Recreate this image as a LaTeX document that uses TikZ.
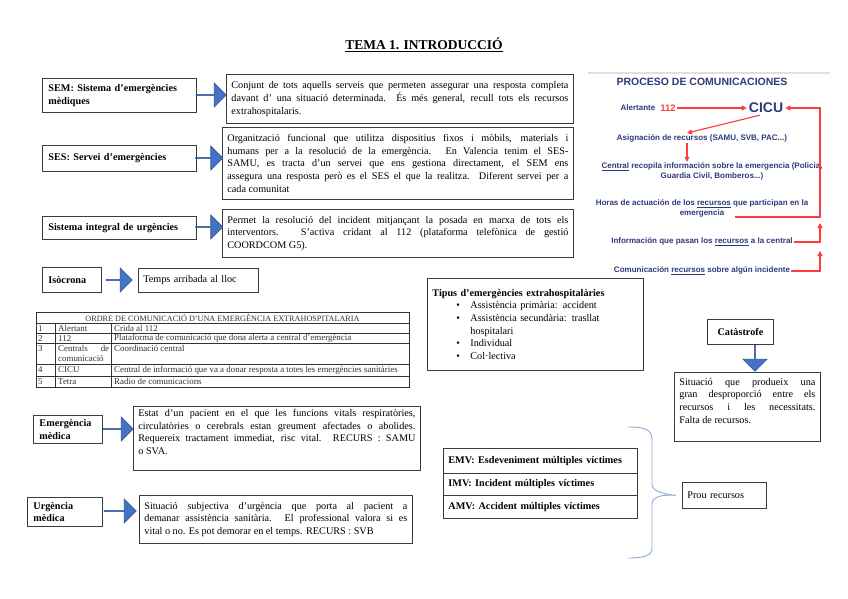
\documentclass[tikz,border=0pt]{standalone}
\usepackage{fontspec}
\setmainfont{Liberation Serif}
\newfontfamily\arialf{Liberation Sans}
\usetikzlibrary{shapes.arrows,arrows.meta,calc}
\definecolor{bordc}{HTML}{3C3C3C}
\definecolor{arrblue}{HTML}{4472C4}
\definecolor{arrbluedk}{HTML}{2F528F}
\definecolor{navy}{HTML}{2E3A7A}
\definecolor{redc}{HTML}{FF3B3B}
\definecolor{bracec}{HTML}{8FAADC}
\definecolor{tabc}{HTML}{333333}
\newcommand\bodyf{\fontsize{10.2}{12.7}\selectfont}
\newcommand\tabf{\fontsize{8.9}{9.6}\selectfont}
\newcommand\procf{\arialf\bfseries\fontsize{8}{9.5}\selectfont}
\newcommand\tbul{\makebox[38pt][l]{\hspace*{24pt}\textbullet}}
\begin{document}
\begin{tikzpicture}[x=1pt,y=-1pt,
  lbl/.style={draw=bordc,line width=0.9pt,font=\bodyf\bfseries,align=left,anchor=north west,inner xsep=6pt,inner ysep=2pt},
  descb/.style={draw=bordc,line width=0.8pt,font=\bodyf,align=justify,anchor=north west,inner xsep=5pt,inner ysep=2pt},
  plainb/.style={draw=bordc,line width=0.8pt,font=\bodyf,align=left,anchor=north west,inner xsep=5pt,inner ysep=2pt},
  barrow/.style={single arrow,fill=arrblue,draw=arrbluedk,line width=0.6pt,single arrow head extend=6pt,minimum width=24pt,inner sep=0pt},
  ptext/.style={font=\procf,text=navy,align=center,inner sep=1pt},
  redarr/.style={draw=redc,line width=1.1pt,-{Triangle[length=5pt,width=5pt]}},
  tabt/.style={font=\tabf,text=tabc,inner sep=0pt,anchor=west},
  rowb/.style={draw=bordc,line width=0.8pt,font=\bodyf\bfseries,align=left,anchor=north west,inner xsep=5pt,inner ysep=0pt,text width=184pt}
]
\fill[white] (0,0) rectangle (848,599);
\useasboundingbox (0,0) rectangle (848,599);

% title
\node[font=\bfseries\fontsize{13.5}{16}\selectfont,inner sep=0pt] (title) at (424,45) {\underline{TEMA 1. INTRODUCCIÓ}};

% SEM
\node[lbl,text width=142pt,minimum height=34pt] (sem) at (42,78) {SEM: Sistema d'emergències\\mèdiques};
\node[descb,text width=337pt,minimum height=49pt] (semd) at (226,74) {Conjunt de tots aquells serveis que permeten assegurar una resposta completa\linebreak davant d' una situació determinada. És més general, recull tots els recursos\linebreak extrahospitalaris.};
\node[barrow,minimum height=30pt] (a1) at (211,95) {};

% SES
\node[lbl,text width=142pt,minimum height=26pt] (ses) at (42,145) {SES: Servei d’emergències};
\node[descb,text width=341pt,minimum height=72pt] (sesd) at (222,127) {Organització funcional que utilitza dispositius fixos i mòbils, materials i\linebreak humans per a la resolució de la emergència. En Valencia tenim el SES-\linebreak SAMU, es tracta d’un servei que ens gestiona directament, el SEM ens\linebreak assegura una resposta però es el SES el que la realitza. Diferent servei per a\linebreak cada comunitat};
\node[barrow,minimum height=27pt] (a2) at (209,158) {};

% Sistema integral
\node[lbl,text width=142pt,minimum height=23pt] (sist) at (42,216) {Sistema integral de urgències};
\node[descb,text width=341pt,minimum height=48pt] (sistd) at (222,209) {Permet la resolució del incident mitjançant la posada en marxa de tots els\linebreak interventors. S’activa cridant al 112 (plataforma telefònica de gestió\linebreak COORDCOM G5).};
\node[barrow,minimum height=27pt] (a3) at (209,227) {};

% Isocrona
\node[lbl,text width=47pt,minimum height=25pt] (iso) at (42,267) {Isòcrona};
\node[plainb,text width=110pt,minimum height=24pt] (temps) at (138,268) {Temps arribada al lloc};
\node[barrow,minimum height=26pt] (a4) at (119,280) {};

% table
\draw[tabc,line width=0.9pt] (36,312) rectangle (409,387);
\foreach \yy in {323,333,343,364,376} \draw[tabc,line width=0.6pt] (36,\yy) -- (409,\yy);
\draw[tabc,line width=0.6pt] (55,323) -- (55,387);
\draw[tabc,line width=0.6pt] (111,323) -- (111,387);
\node[tabt,anchor=center,font=\fontsize{8.2}{9}\selectfont] (th) at (222.5,317.8) {ORDRE DE COMUNICACIÓ D’UNA EMERGÈNCIA EXTRAHOSPITALARIA};
\node[tabt] (r1a) at (38,328.3) {1};
\node[tabt] (r1b) at (58,328.3) {Alertant};
\node[tabt] (r1c) at (114,328.3) {Crida al 112};
\node[tabt] (r2a) at (38,338.3) {2};
\node[tabt] (r2b) at (58,338.3) {112};
\node[tabt] (r2c) at (114,338.3) {Plataforma de comunicació que dona alerta a central d’emergència};
\node[tabt] (r3a) at (38,348.5) {3};
\node[tabt] (r3b) at (58,348.5) {\makebox[51pt][s]{Centrals de}};
\node[tabt] (r3b2) at (58,358.5) {comunicació};
\node[tabt] (r3c) at (114,348.5) {Coordinació central};
\node[tabt] (r4a) at (38,370) {4};
\node[tabt] (r4b) at (58,370) {CICU};
\node[tabt] (r4c) at (114,370) {Central de informació que va a donar resposta a totes les emergències sanitàries};
\node[tabt] (r5a) at (38,381.5) {5};
\node[tabt] (r5b) at (58,381.5) {Tetra};
\node[tabt] (r5c) at (114,381.5) {Radio de comunicacions};

% Tipus
\node[plainb,text width=206pt,minimum height=92pt] (tipus) at (427,278) {\textbf{Tipus d’emergències extrahospitalàries}\\
\tbul Assistència primària: accident\\
\tbul Assistència secundària: trasllat\\
\hspace*{38pt}hospitalari\\
\tbul Individual\\
\tbul Col·lectiva};

% Catastrofe
\node[lbl,align=center,text width=54pt,minimum height=25pt] (cat) at (707,319) {Catàstrofe};
\node[barrow,shape border rotate=270,minimum height=26pt] (a5) at (755,358) {};
\node[descb,text width=136pt,minimum height=69pt] (catd) at (674,372) {Situació que produeix una\linebreak gran desproporció entre els\linebreak recursos i les necessitats.\linebreak Falta de recursos.\newline\mbox{}};

% Emergencia medica
\node[lbl,text width=57pt,minimum height=28pt] (em) at (33,415) {Emergència\\mèdica};
\node[descb,text width=277pt,minimum height=64pt] (emd) at (133,406) {Estat d’un pacient en el que les funcions vitals respiratòries,\linebreak circulatòries o cerebrals estan greument afectades o abolides.\linebreak Requereix tractament immediat, risc vital. RECURS : SAMU\linebreak o SVA.\newline\mbox{}};
\node[barrow,minimum height=30pt] (a6) at (118,429) {};

% Urgencia medica
\node[lbl,text width=63pt,minimum height=29pt] (ur) at (27,497) {Urgència\\mèdica};
\node[descb,text width=263pt,minimum height=48pt] (urd) at (139,495) {Situació subjectiva d’urgència que porta al pacient a\linebreak demanar assistència sanitària. El professional valora si es\linebreak vital o no. Es pot demorar en el temps. RECURS : SVB};
\node[barrow,minimum height=32pt] (a7) at (120,511) {};

% EMV table
\node[rowb,minimum height=25pt] (emv) at (443,448) {EMV: Esdeveniment múltiples víctimes};
\node[rowb,minimum height=22pt] (imv) at (443,473) {IMV: Incident múltiples víctimes};
\node[rowb,minimum height=23pt] (amv) at (443,495) {AMV: Accident múltiples víctimes};
\node[plainb,text width=74pt,minimum height=26pt] (prou) at (682,482) {Prou recursos};
\coordinate (btip) at ($(prou.west)+(-6,0)$);
\draw[bracec,line width=0.9pt] (628,427) .. controls (646,427) and (652,430) .. (652,440) -- (652,484) .. controls (652,491) and (662,494) .. (btip) .. controls (662,494) and (652,497) .. (652,504) -- (652,548) .. controls (652,555) and (646,558) .. (628,558);

% Proceso de comunicaciones
\draw[gray!25,line width=1.5pt] (588,73) -- (830,73);
\node[ptext,font=\arialf\bfseries\fontsize{10.5}{12}\selectfont] (ptitle) at (702,82) {PROCESO DE COMUNICACIONES};
\node[ptext] (alert) at (638,108) {Alertante};
\node[ptext,font=\arialf\bfseries\fontsize{9.5}{10}\selectfont,text=redc] (n112) at (668,108) {112};
\node[ptext,font=\arialf\bfseries\fontsize{14}{16}\selectfont,inner sep=2pt] (cicu) at (766,108) {CICU};
\node[ptext] (asig) at (702,138) {Asignación de recursos (SAMU, SVB, PAC...)};
\node[ptext] (central) at (712,171.5) {\underline{Central} recopila información sobre la emergencia (Policia,\\Guardia Civil, Bomberos...)};
\node[ptext] (horas) at (702,208.5) {Horas de actuación de los \underline{recursos} que participan en la\\emergencia};
\node[ptext] (info) at (702,242) {Información que pasan los \underline{recursos} a la central};
\node[ptext] (comu) at (702,271) {Comunicación \underline{recursos} sobre algún incidente};

\coordinate (hend) at (735,217);
\coordinate (ctop) at (820,108);
\coordinate (itip) at (820,223);
\coordinate (ctip) at (820,251);
\draw[redarr] (n112.east) -- (cicu.west);
\draw[redarr] ([xshift=-6pt]cicu.south) -- ([xshift=-15pt]asig.north);
\draw[redarr] ([xshift=-15pt]asig.south) -- ([xshift=-15pt]asig.south |- central.north);
\draw[redarr] (hend) -| (ctop) -- (cicu.east);
\draw[redarr] (info.east) -| (itip);
\draw[redarr] (comu.east) -| (ctip);
\end{tikzpicture}
\end{document}
